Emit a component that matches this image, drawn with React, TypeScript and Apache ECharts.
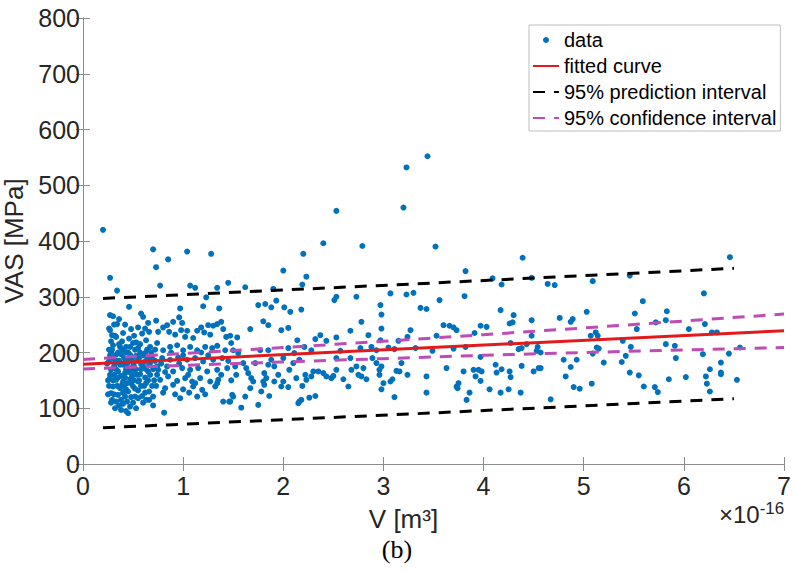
import React, { useEffect, useRef } from 'react';
import * as echarts from 'echarts';

// ---- Data (x in units of 1e-16 m^3, y in MPa) ----
const fittedCurve = [[0, 179], [7, 239]];
const predictionUpper = [[0.2, 297], [3.3, 323], [6.5, 351]];
const predictionLower = [[0.2, 65], [3.3, 90], [6.5, 117]];
const confidenceUpper = [[0, 187.5], [1, 198], [2, 209], [3, 220], [4, 232], [5, 244], [6, 256.5], [7, 269]];
const confidenceLower = [[0, 170.5], [1, 177], [2, 183], [3, 189], [4, 195], [5, 200], [6, 204.5], [7, 209]];

const pointsA = [
  [0.20, 420], [0.27, 334], [0.34, 311], [0.70, 385], [0.73, 353], [0.27, 267], [0.30, 265], [0.46, 282], [0.58, 270], [0.60, 264],
  [0.65, 253], [0.73, 257], [0.34, 251], [0.26, 243], [0.29, 231], [0.40, 235], [0.51, 230], [0.59, 234], [0.66, 237],
  [0.27, 240], [0.33, 228], [0.63, 222], [0.30, 213], [0.37, 210], [0.43, 210], [0.50, 217], [0.55, 208], [0.67, 210],
  [0.28, 199], [0.33, 196], [0.38, 197], [0.47, 196], [0.53, 194], [0.62, 199], [0.68, 194], [0.26, 184], [0.32, 181],
  [0.40, 178], [0.50, 181], [0.58, 179], [0.67, 181], [0.28, 169], [0.35, 166], [0.42, 163], [0.50, 166], [0.57, 161],
  [0.65, 166], [0.27, 154], [0.33, 151], [0.40, 148], [0.47, 152], [0.55, 148], [0.30, 139], [0.37, 136], [0.43, 134],
  [0.50, 139], [0.28, 127], [0.35, 124], [0.42, 121], [0.52, 121], [0.33, 112], [0.40, 108], [0.47, 103], [0.38, 97],
  [0.45, 91], [0.53, 100], [0.63, 115], [0.70, 121],
  [0.30, 190], [0.36, 185], [0.42, 200], [0.45, 188], [0.48, 172], [0.52, 205], [0.56, 190], [0.60, 175], [0.64, 188],
  [0.70, 170], [0.27, 160], [0.31, 175], [0.38, 158], [0.44, 145], [0.49, 158], [0.58, 140], [0.62, 155], [0.66, 130],
  [0.34, 140], [0.40, 128], [0.29, 115], [0.36, 105], [0.44, 112], [0.55, 132], [0.59, 122], [0.26, 205], [0.28, 220],
  [0.32, 230], [0.39, 220], [0.46, 225], [0.53, 218], [0.57, 200], [0.68, 200], [0.72, 185], [0.74, 160], [0.35, 200],
  [0.43, 170], [0.51, 150], [0.63, 145], [0.69, 140], [0.24, 180], [0.25, 150], [0.25, 125],
  [0.29, 205], [0.31, 160], [0.33, 170], [0.36, 215], [0.37, 178], [0.39, 142], [0.41, 190], [0.42, 155], [0.44, 180],
  [0.45, 130], [0.46, 165], [0.47, 210], [0.48, 145], [0.49, 190], [0.51, 175], [0.52, 135], [0.54, 160], [0.54, 185],
  [0.56, 150], [0.57, 215], [0.58, 170], [0.60, 195], [0.61, 140], [0.61, 183], [0.63, 170], [0.64, 205], [0.65, 150],
  [0.66, 178], [0.67, 160], [0.69, 190], [0.71, 150], [0.72, 205], [0.73, 140], [0.74, 175], [0.26, 140], [0.27, 195],
  [0.28, 110], [0.30, 150], [0.31, 125], [0.32, 100], [0.34, 185], [0.35, 155], [0.38, 115], [0.39, 205], [0.41, 140],
  [0.43, 95], [0.45, 200], [0.48, 120], [0.50, 110], [0.53, 170], [0.55, 118], [0.60, 110], [0.62, 128], [0.66, 115],
  [0.70, 105], [0.42, 250], [0.48, 242], [0.55, 245], [0.36, 260], [0.62, 243], [0.31, 250]
];

const pointsB = [
  [0.77, 320], [0.85, 367], [1.04, 381], [1.07, 320], [1.12, 316], [1.28, 377], [1.34, 316], [1.45, 325], [0.84, 249],
  [0.86, 237], [0.90, 255], [0.96, 263], [0.97, 279], [0.99, 253], [0.98, 240], [1.04, 239], [1.02, 228], [1.14, 239],
  [1.20, 283], [1.23, 299], [1.21, 236], [1.25, 249], [1.30, 248], [1.34, 251], [1.36, 279], [1.38, 255], [1.40, 242],
  [1.43, 228], [1.47, 230], [0.75, 237],
  [0.74, 217], [0.80, 204], [0.87, 210], [0.94, 213], [1.00, 204], [1.07, 210], [1.14, 204], [1.22, 210], [1.29, 208],
  [1.34, 212], [1.42, 204], [0.79, 190], [0.87, 187], [0.95, 191], [1.04, 187], [1.12, 190], [1.20, 184], [1.30, 187],
  [1.39, 190], [0.75, 169], [0.84, 175], [0.90, 166], [0.99, 172], [1.07, 169], [1.15, 172], [1.24, 166], [1.34, 169],
  [1.44, 172], [0.77, 151], [0.85, 157], [0.94, 149], [1.02, 154], [1.09, 148], [1.17, 154], [1.27, 148], [1.35, 151],
  [0.82, 136], [0.90, 142], [1.00, 134], [1.10, 139], [1.19, 133], [1.32, 139], [0.80, 128], [0.97, 118], [1.14, 121],
  [1.34, 145], [1.40, 112], [1.46, 112], [0.81, 92],
  [0.80, 245], [0.92, 232], [1.10, 226], [1.27, 232], [1.18, 245], [0.88, 200], [0.96, 180], [1.05, 160], [1.12, 145],
  [1.25, 195], [1.38, 160], [0.82, 165], [1.00, 195], [1.18, 200], [1.45, 185], [0.92, 125], [1.06, 128], [1.22, 125],
  [0.78, 180], [1.48, 150]
];

const pointsC = [
  [1.54, 227], [1.62, 317], [1.67, 242], [1.75, 285], [1.82, 287], [1.85, 249], [1.80, 256], [1.88, 281], [1.93, 293],
  [2.01, 281], [2.07, 273], [1.98, 240], [2.05, 244], [2.14, 222], [1.90, 314], [2.00, 347], [2.20, 377], [2.23, 336],
  [2.19, 322], [2.18, 277],
  [1.48, 217], [1.50, 204], [1.55, 199], [1.60, 181], [1.63, 172], [1.65, 163], [1.68, 154], [1.70, 148], [1.67, 136],
  [1.62, 121], [1.50, 121], [1.47, 112], [1.75, 106], [1.78, 130], [1.80, 148], [1.81, 142], [1.83, 154], [1.81, 163],
  [1.86, 122], [1.91, 175], [1.95, 160], [1.98, 139], [2.00, 148], [2.05, 138], [2.06, 169], [2.10, 181], [2.13, 154],
  [2.15, 109], [2.16, 112], [1.52, 175], [1.53, 160], [1.72, 181], [1.88, 187], [2.00, 190], [1.85, 178], [1.91, 148],
  [1.77, 204], [1.85, 204], [2.05, 208], [2.21, 210], [2.16, 187], [2.11, 199], [1.49, 124], [1.58, 101],
  [2.22, 160], [2.19, 140], [2.18, 115], [2.26, 119], [2.23, 151], [2.28, 157]
];

const pointsD = [
  [2.32, 224], [2.40, 396], [2.53, 454], [2.79, 391], [3.23, 532], [3.20, 460], [3.44, 552], [3.52, 390], [4.39, 370],
  [3.82, 346], [4.09, 333], [4.18, 322], [4.48, 334], [2.51, 294], [2.53, 300], [2.73, 300], [3.07, 306], [3.23, 304],
  [3.30, 307], [2.97, 285], [2.98, 268], [2.98, 243], [2.78, 255], [2.67, 239], [3.37, 280], [3.43, 278], [3.56, 294],
  [3.81, 301], [4.17, 276], [4.30, 267], [4.26, 252], [4.29, 254], [4.48, 258], [3.60, 249], [3.66, 248], [3.70, 245],
  [3.73, 240], [3.97, 248], [4.03, 246], [3.91, 235], [3.27, 240], [3.24, 228], [3.15, 221], [3.53, 230], [2.37, 231],
  [2.43, 221], [2.53, 227], [2.85, 231], [2.97, 222], [3.05, 209], [3.11, 206], [3.32, 208], [3.49, 203], [3.70, 207],
  [3.82, 210], [4.27, 217], [4.35, 206], [4.38, 208], [4.53, 203], [4.54, 210], [4.48, 230], [4.43, 215], [2.28, 204],
  [2.57, 203], [2.77, 208], [2.88, 210], [2.93, 204], [2.53, 190], [2.67, 190], [2.89, 190], [3.97, 192], [4.57, 200],
  [4.57, 172],
  [2.32, 122], [2.30, 166], [2.35, 166], [2.40, 163], [2.43, 157], [2.48, 154], [2.53, 169], [2.50, 158], [2.60, 152],
  [2.65, 139], [2.68, 169], [2.73, 175], [2.75, 160], [2.78, 157], [2.80, 172], [2.83, 152], [2.93, 181], [2.96, 169],
  [2.98, 175], [2.96, 160], [3.00, 145], [2.98, 134], [3.07, 148], [3.09, 152], [3.11, 120], [3.13, 167], [3.16, 166],
  [3.24, 160], [3.18, 181], [3.43, 157], [3.43, 128], [3.63, 172], [3.73, 139], [3.75, 145], [3.74, 136], [3.80, 166],
  [3.83, 115], [3.86, 128], [3.90, 169], [3.95, 169], [3.98, 166], [3.97, 149], [3.92, 157], [4.06, 134], [4.12, 178],
  [4.13, 164], [4.18, 170], [4.17, 128], [4.26, 166], [4.25, 134], [4.27, 156], [4.37, 128], [4.38, 176], [4.50, 166],
  [4.55, 172]
];

const pointsE = [
  [4.64, 323], [4.67, 116], [6.46, 371], [5.46, 338], [5.09, 328], [4.71, 321], [6.20, 306], [5.59, 292], [5.03, 273],
  [5.83, 274], [4.76, 262], [4.87, 255], [4.89, 260], [5.51, 270], [5.53, 242], [5.72, 254], [5.82, 258], [6.05, 242],
  [6.21, 251], [5.07, 230], [5.12, 236], [5.14, 230], [5.39, 221], [6.28, 236], [6.33, 236], [5.13, 209], [5.15, 207],
  [5.09, 198], [5.47, 210], [5.82, 215], [5.91, 212], [5.20, 182], [5.38, 183], [5.42, 194], [5.92, 190], [6.19, 197],
  [6.45, 198], [6.56, 209], [4.80, 187], [4.93, 187], [4.87, 174], [4.82, 157], [4.90, 138], [4.96, 135], [5.08, 144],
  [5.46, 164], [5.55, 159], [5.60, 139], [5.71, 138], [5.74, 129], [5.85, 152], [6.02, 156], [6.22, 157], [6.23, 144],
  [6.26, 130], [6.26, 170], [6.37, 182], [6.37, 164], [6.37, 161], [6.53, 151]
];

const legendNames = ['data', 'fitted curve', '95% prediction interval', '95% confidence interval'];

const FONT = '"Liberation Sans", Arial, Helvetica, sans-serif';
const AXIS_COLOR = '#8c8c8c';
const LABEL_COLOR = '#262626';

export default function App() {
  const ref = useRef<HTMLDivElement>(null);

  useEffect(() => {
    if (!ref.current) return;
    const chart = echarts.init(ref.current, undefined, { renderer: 'svg' });
    const allPoints = [...pointsA, ...pointsB, ...pointsC, ...pointsD, ...pointsE];

    const dashedLine = (name: string, data: number[][], color: string) => ({
      name,
      type: 'line',
      data,
      symbol: 'none',
      z: 4,
      lineStyle: { color, width: 3, type: [12, 9] },
      itemStyle: { color },
    });

    const hiddenAxisCommon = {
      axisLine: { show: true, lineStyle: { color: AXIS_COLOR, width: 1 } },
      axisTick: { show: true, inside: true, length: 7, lineStyle: { color: AXIS_COLOR } },
      axisLabel: { show: false },
      splitLine: { show: false },
    };

    const noSymbol = { color: 'transparent', opacity: 0, borderWidth: 0 };

    chart.setOption({
      animation: false,
      backgroundColor: '#ffffff',
      grid: { left: 83, right: 10, top: 18, bottom: 109, containLabel: false, outerBoundsMode: 'none' },
      legend: {
        left: 529,
        top: 25,
        orient: 'vertical',
        itemWidth: 26,
        itemHeight: 6,
        itemGap: 6,
        padding: [5, 4, 3, 3],
        borderColor: '#bfbfbf',
        borderWidth: 1,
        backgroundColor: '#ffffff',
        selectedMode: false,
        textStyle: { fontFamily: FONT, fontSize: 20, lineHeight: 20, color: '#000000' },
        data: [
          { name: legendNames[0] },
          { name: legendNames[1], itemStyle: noSymbol },
          { name: legendNames[2], itemStyle: noSymbol },
          { name: legendNames[3], itemStyle: noSymbol },
        ],
      },
      xAxis: [
        {
          type: 'value',
          min: 0,
          max: 7,
          interval: 1,
          name: 'V [m³]',
          nameLocation: 'middle',
          nameGap: 42,
          nameTextStyle: { fontFamily: FONT, fontSize: 26, color: LABEL_COLOR, padding: [0, 60, 0, 0] },
          axisLine: { show: true, onZero: false, lineStyle: { color: AXIS_COLOR, width: 1 } },
          axisTick: { show: true, inside: true, length: 7, lineStyle: { color: AXIS_COLOR } },
          axisLabel: { fontFamily: FONT, fontSize: 25, color: LABEL_COLOR, margin: 9 },
          splitLine: { show: false },
        },
        { type: 'value', min: 0, max: 7, interval: 1, position: 'top', ...hiddenAxisCommon },
      ],
      yAxis: [
        {
          type: 'value',
          min: 0,
          max: 800,
          interval: 100,
          name: 'VAS [MPa]',
          nameLocation: 'middle',
          nameGap: 48,
          nameTextStyle: { fontFamily: FONT, fontSize: 26, color: LABEL_COLOR, padding: [0, 0, 0, 0] },
          axisLine: { show: true, onZero: false, lineStyle: { color: AXIS_COLOR, width: 1 } },
          axisTick: { show: true, inside: true, length: 7, lineStyle: { color: AXIS_COLOR } },
          axisLabel: { fontFamily: FONT, fontSize: 25, color: LABEL_COLOR, margin: 3 },
          splitLine: { show: false },
        },
        { type: 'value', min: 0, max: 800, interval: 100, position: 'right', ...hiddenAxisCommon },
      ],
      graphic: [
        {
          type: 'text',
          left: 719,
          top: 500,
          style: {
            text: '×10{sup|-16}',
            fontFamily: FONT,
            fontSize: 24,
            fill: LABEL_COLOR,
            rich: { sup: { fontSize: 17, fontFamily: FONT, fill: LABEL_COLOR, verticalAlign: 'top', padding: [0, 0, 12, 0] } },
          },
        },
        {
          type: 'text',
          left: 'center',
          top: 536,
          style: { text: '(b)', fontFamily: '"Liberation Serif", "Times New Roman", serif', fontSize: 26, fill: '#000' },
        },
      ],
      series: [
        {
          name: 'data',
          type: 'scatter',
          data: allPoints,
          symbol: 'circle',
          symbolSize: 6,
          z: 2,
          itemStyle: { color: '#0072BD', opacity: 1 },
        },
        {
          name: 'fitted curve',
          type: 'line',
          data: fittedCurve,
          symbol: 'none',
          z: 5,
          lineStyle: { color: '#E31A1C', width: 3 },
          itemStyle: { color: '#E31A1C' },
        },
        dashedLine('95% prediction interval', predictionUpper, '#000000'),
        dashedLine('95% prediction interval', predictionLower, '#000000'),
        dashedLine('95% confidence interval', confidenceUpper, '#BE4BB6'),
        dashedLine('95% confidence interval', confidenceLower, '#BE4BB6'),
      ],
    });

    return () => chart.dispose();
  }, []);

  return <div ref={ref} style={{ position: 'absolute', left: 0, top: 0, width: 794, height: 573 }} />;
}
